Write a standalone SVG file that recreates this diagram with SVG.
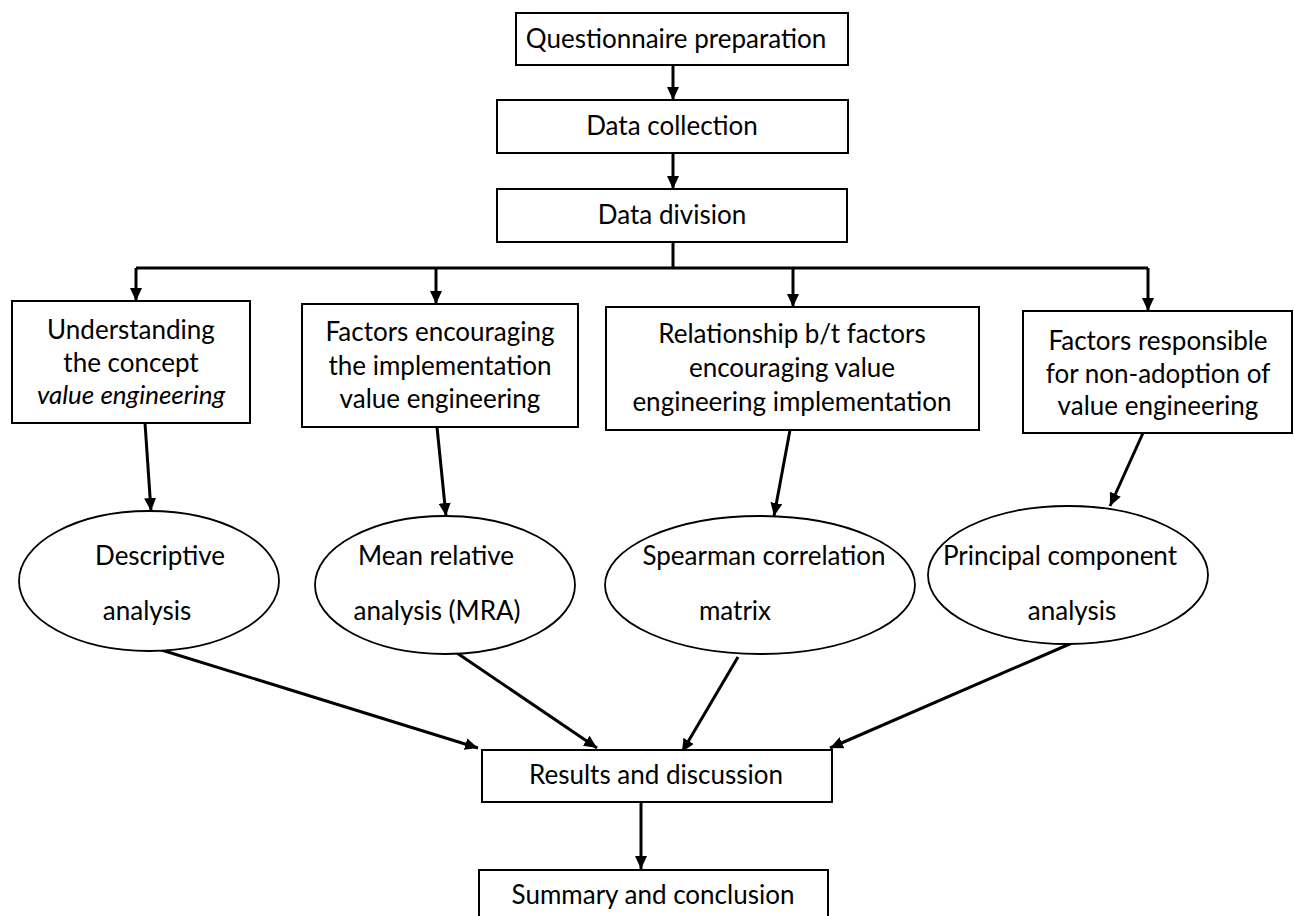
<svg xmlns="http://www.w3.org/2000/svg" width="1295" height="916" viewBox="0 0 1295 916">
<style>
.box{fill:#fff;stroke:#000;stroke-width:2}
.ell{fill:#fff;stroke:#000;stroke-width:1.8}
.t{font-family:Lato,"Liberation Sans",sans-serif;font-size:26px;fill:#000;text-anchor:middle}
.it{font-style:italic}
.c{fill:none;stroke:#000;stroke-width:3}
</style>
<defs>
<marker id="ah" markerUnits="userSpaceOnUse" markerWidth="14" markerHeight="12" refX="13" refY="6" orient="auto">
<path d="M0,0 L13,6 L0,12 z" fill="#000"/>
</marker>
</defs>
<rect width="1295" height="916" fill="#fff"/>
<g id="connectors">
<path class="c" d="M673,65 V100" marker-end="url(#ah)"/>
<path class="c" d="M673,153 V189" marker-end="url(#ah)"/>
<path class="c" d="M673,242 V268 M136,268 H1148"/>
<path class="c" d="M136,268 V301" marker-end="url(#ah)"/>
<path class="c" d="M436,268 V304" marker-end="url(#ah)"/>
<path class="c" d="M793,268 V307" marker-end="url(#ah)"/>
<path class="c" d="M1148,268 V311" marker-end="url(#ah)"/>
<path class="c" d="M145,423 L151,511" marker-end="url(#ah)"/>
<path class="c" d="M437,427 L446,516" marker-end="url(#ah)"/>
<path class="c" d="M790,430 L774,516" marker-end="url(#ah)"/>
<path class="c" d="M1143,433 L1110,506" marker-end="url(#ah)"/>
<path class="c" d="M155,648 L478,748" marker-end="url(#ah)"/>
<path class="c" d="M457,653 L597,748" marker-end="url(#ah)"/>
<path class="c" d="M738,657 L682,752" marker-end="url(#ah)"/>
<path class="c" d="M1072,643 L830,748" marker-end="url(#ah)"/>
<path class="c" d="M641,802 V869" marker-end="url(#ah)"/>
</g>
<g id="n-questionnaire"><rect class="box" x="516" y="13" width="332" height="52"/><text class="t" x="676" y="48">Questionnaire preparation</text></g>
<g id="n-collection"><rect class="box" x="497" y="100" width="351" height="53"/><text class="t" x="672" y="135">Data collection</text></g>
<g id="n-division"><rect class="box" x="497" y="189" width="350" height="53"/><text class="t" x="672" y="224">Data division</text></g>
<g id="n-understanding"><rect class="box" x="12" y="301" width="238" height="122"/>
<text class="t" x="131" y="339">Understanding</text><text class="t" x="131" y="372">the concept</text><text class="t it" x="131" y="404">value engineering</text></g>
<g id="n-factors-enc"><rect class="box" x="302" y="304" width="276" height="123"/>
<text class="t" x="440" y="341">Factors encouraging</text><text class="t" x="440" y="375">the implementation</text><text class="t" x="440" y="408">value engineering</text></g>
<g id="n-relationship"><rect class="box" x="606" y="307" width="373" height="123"/>
<text class="t" x="792" y="343">Relationship b/t factors</text><text class="t" x="792" y="377">encouraging value</text><text class="t" x="792" y="411">engineering implementation</text></g>
<g id="n-factors-resp"><rect class="box" x="1023" y="311" width="269" height="122"/>
<text class="t" x="1158" y="350">Factors responsible</text><text class="t" x="1158" y="383">for non-adoption of</text><text class="t" x="1158" y="415">value engineering</text></g>
<g id="n-descriptive"><ellipse class="ell" cx="149" cy="581" rx="130" ry="70"/>
<text class="t" x="160" y="565">Descriptive</text><text class="t" x="147" y="620">analysis</text></g>
<g id="n-mra"><ellipse class="ell" cx="445" cy="585" rx="130" ry="69"/>
<text class="t" x="436" y="565">Mean relative</text><text class="t" x="437" y="620">analysis (MRA)</text></g>
<g id="n-spearman"><ellipse class="ell" cx="760" cy="585" rx="155" ry="69"/>
<text class="t" x="764" y="565">Spearman correlation</text><text class="t" x="735" y="620">matrix</text></g>
<g id="n-pca"><ellipse class="ell" cx="1068" cy="575" rx="140" ry="69"/>
<text class="t" x="1060" y="565">Principal component</text><text class="t" x="1072" y="620">analysis</text></g>
<g id="n-results"><rect class="box" x="482" y="750" width="350" height="52"/><text class="t" x="656" y="784">Results and discussion</text></g>
<g id="n-summary"><rect class="box" x="479" y="870" width="349" height="60"/><text class="t" x="653" y="904">Summary and conclusion</text></g>
</svg>
